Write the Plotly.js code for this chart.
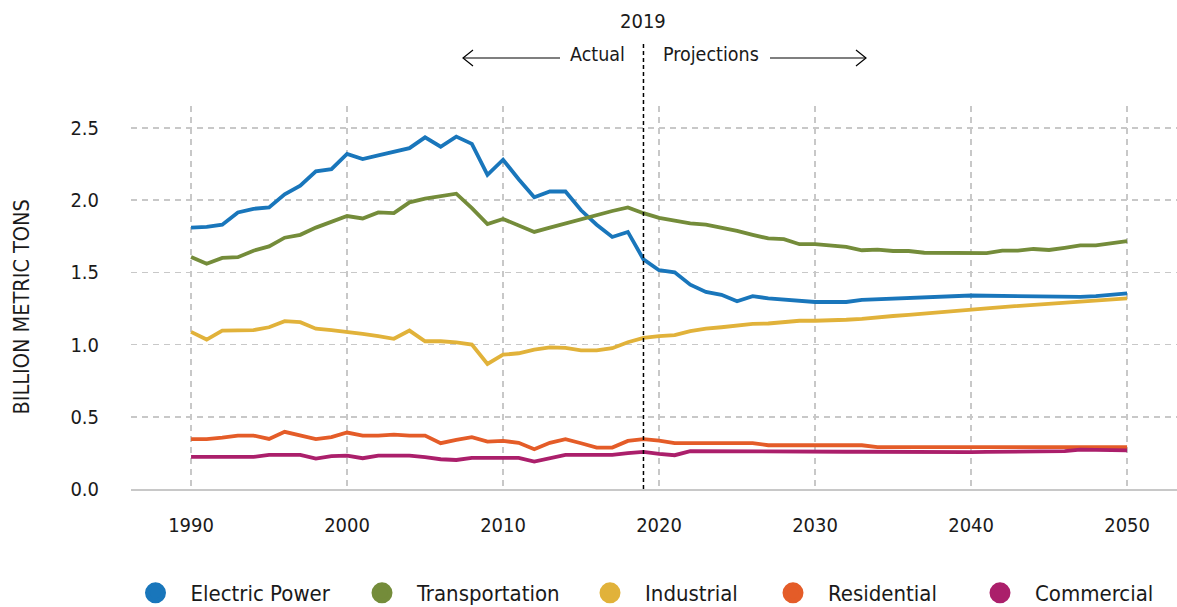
<!DOCTYPE html>
<html>
<head>
<meta charset="utf-8">
<script src="https://cdn.plot.ly/plotly-3.0.1.min.js"></script>
<style>
  html, body { margin: 0; padding: 0; background: #fff; }
  #chart { width: 1177px; height: 607px; }
</style>
</head>
<body>
<div id="chart"></div>
<script>
// ---- Data (billion metric tons), 1990–2050 ----
const years = [];
for (let y = 1990; y <= 2050; y++) years.push(y);

const seriesNames = ['Electric Power', 'Transportation', 'Industrial', 'Residential', 'Commercial'];
const seriesColors = ['#1976bb', '#748c3a', '#e1b23a', '#e45c28', '#ab1f6b'];

const electricPower = [
  1.81, 1.815, 1.83, 1.915, 1.94, 1.95, 2.04, 2.10, 2.20, 2.215,
  2.32, 2.285, 2.31, 2.335, 2.36, 2.435, 2.37, 2.44, 2.39, 2.175,
  2.28, 2.145, 2.02, 2.06, 2.06, 1.93, 1.83, 1.745, 1.78, 1.59,
  1.515, 1.50, 1.415, 1.365, 1.345, 1.30, 1.335, 1.32, 1.31, 1.30,
  1.295, 1.295, 1.295, 1.31, 1.315, 1.32, 1.325, 1.33, 1.335, 1.338,
  1.34, 1.338, 1.336, 1.334, 1.332, 1.33, 1.328, 1.33, 1.335, 1.345,
  1.355
];
const transportation = [
  1.606, 1.56, 1.60, 1.605, 1.65, 1.68, 1.74, 1.76, 1.81, 1.85,
  1.89, 1.873, 1.915, 1.91, 1.985, 2.01, 2.025, 2.045, 1.945, 1.835,
  1.87, 1.826, 1.78, 1.81, 1.84, 1.865, 1.895, 1.925, 1.95, 1.91,
  1.877, 1.856, 1.84, 1.83, 1.81, 1.787, 1.76, 1.735, 1.73, 1.695,
  1.695, 1.683, 1.676, 1.653, 1.657, 1.648, 1.648, 1.636, 1.636, 1.635,
  1.634, 1.633, 1.65, 1.65, 1.662, 1.655, 1.67, 1.687, 1.687, 1.70,
  1.717
];
const industrial = [
  1.088, 1.035, 1.097, 1.097, 1.10, 1.12, 1.162, 1.155, 1.11, 1.10,
  1.09, 1.074, 1.058, 1.04, 1.097, 1.023, 1.023, 1.016, 1.0, 0.866,
  0.93, 0.94, 0.965, 0.98, 0.977, 0.96, 0.96, 0.975, 1.016, 1.046,
  1.058, 1.065, 1.093, 1.11, 1.12, 1.132, 1.144, 1.146, 1.155, 1.165,
  1.165, 1.167, 1.172, 1.178, 1.19, 1.198, 1.205, 1.213, 1.222, 1.233,
  1.243, 1.25, 1.26, 1.268, 1.272, 1.278, 1.286, 1.294, 1.303, 1.312,
  1.32
];
const residential = [
  0.345, 0.345, 0.356, 0.37, 0.37, 0.347, 0.396, 0.37, 0.345, 0.359,
  0.391, 0.37, 0.37, 0.377, 0.37, 0.37, 0.317, 0.34, 0.359, 0.328,
  0.333, 0.32, 0.275, 0.32, 0.345, 0.317, 0.287, 0.287, 0.333, 0.345,
  0.335, 0.317, 0.317, 0.317, 0.317, 0.317, 0.317, 0.303, 0.303, 0.303,
  0.303, 0.303, 0.303, 0.303, 0.29, 0.29, 0.288, 0.288, 0.288, 0.288,
  0.288, 0.288, 0.288, 0.288, 0.288, 0.288, 0.288, 0.288, 0.288, 0.29,
  0.29
];
const commercial = [
  0.222, 0.222, 0.218, 0.216, 0.222, 0.236, 0.236, 0.236, 0.21, 0.227,
  0.231, 0.213, 0.231, 0.231, 0.231, 0.22, 0.206, 0.201, 0.216, 0.216,
  0.216, 0.216, 0.19, 0.213, 0.236, 0.236, 0.236, 0.236, 0.248, 0.257,
  0.243, 0.234, 0.262, 0.261, 0.261, 0.26, 0.26, 0.26, 0.259, 0.259,
  0.258, 0.258, 0.258, 0.258, 0.257, 0.257, 0.257, 0.257, 0.256, 0.256,
  0.256, 0.257, 0.258, 0.259, 0.26, 0.261, 0.262, 0.272, 0.271, 0.27,
  0.268
];
const seriesValues = [electricPower, transportation, industrial, residential, commercial];

const xTickVals = [1990, 2000, 2010, 2020, 2030, 2040, 2050];
const yTickVals = [0, 0.5, 1.0, 1.5, 2.0, 2.5];
const yTickText = ['0.0', '0.5', '1.0', '1.5', '2.0', '2.5'];
const splitYear = 2019;

// ---- Styling ----
const FONT = "'Liberation Sans Narrow', 'Arial Narrow', 'DejaVu Sans Condensed', sans-serif";
const TXT = '#1a1a1a';
const GRID = '#c8c8c8';

const traces = [];
// data lines
seriesNames.forEach((name, i) => {
  traces.push({
    type: 'scatter', mode: 'lines', name: name,
    x: years, y: seriesValues[i],
    line: { color: seriesColors[i], width: 3.8 },
    showlegend: false, legendgroup: name, hoverinfo: 'x+y+name'
  });
});
// legend entries (circle markers), each in its own legend for exact spacing
const legendCenters = [155.5, 382, 610, 793, 1000]; // px centers of legend circles
const legendIds = ['legend', 'legend2', 'legend3', 'legend4', 'legend5'];
seriesNames.forEach((name, i) => {
  traces.push({
    type: 'scatter', mode: 'markers', name: name,
    x: [null], y: [null],
    marker: { color: seriesColors[i], size: 16, symbol: 'circle',
              line: { color: seriesColors[i], width: 5 } },
    legend: legendIds[i], legendgroup: name, showlegend: true
  });
});

const W = 1177, H = 607, ML = 131, MR = 0, MT = 106, MB = 118;
const PW = W - ML - MR, PH = H - MT - MB;
const px2paperX = p => (p - ML) / PW;
const px2paperY = p => (H - MB - p) / PH;

const layout = {
  width: W, height: H,
  margin: { l: ML, r: MR, t: MT, b: MB, pad: 0, autoexpand: false },
  paper_bgcolor: '#fff', plot_bgcolor: '#fff',
  font: { family: FONT, color: TXT, size: 20 },
  xaxis: {
    range: [1986.15, 2053.2], tickvals: xTickVals, ticktext: xTickVals.map(String),
    showgrid: true, gridcolor: GRID, gridwidth: 1.5, griddash: '6px,5px',
    showline: true, linecolor: GRID, linewidth: 2, zeroline: false,
    ticks: '', ticklabelstandoff: 17, automargin: false,
    tickfont: { family: FONT, size: 20, color: TXT }, fixedrange: true
  },
  yaxis: {
    range: [0, 2.652], tickvals: yTickVals, ticktext: yTickText,
    showgrid: true, gridcolor: GRID, gridwidth: 1.5, griddash: '6px,5px',
    zeroline: false, showline: false, ticks: '', ticklabelstandoff: 31, automargin: false,
    tickfont: { family: FONT, size: 20, color: TXT }, fixedrange: true
  },
  showlegend: true,
  shapes: [
    // 2019 split line
    { type: 'line', xref: 'x', yref: 'paper', x0: splitYear, x1: splitYear,
      y0: 0, y1: px2paperY(44), line: { color: '#000', width: 1.5, dash: '4px,3px' } },
    // left arrow
    { type: 'line', xref: 'paper', yref: 'paper', x0: px2paperX(463), x1: px2paperX(560),
      y0: px2paperY(58), y1: px2paperY(58), line: { color: '#000', width: 1.2 } },
    { type: 'path', xref: 'paper', yref: 'paper',
      path: `M ${px2paperX(473)},${px2paperY(50)} L ${px2paperX(463)},${px2paperY(58)} L ${px2paperX(473)},${px2paperY(66)}`,
      line: { color: '#000', width: 1.2 } },
    // right arrow
    { type: 'line', xref: 'paper', yref: 'paper', x0: px2paperX(770), x1: px2paperX(866),
      y0: px2paperY(58), y1: px2paperY(58), line: { color: '#000', width: 1.2 } },
    { type: 'path', xref: 'paper', yref: 'paper',
      path: `M ${px2paperX(856)},${px2paperY(50)} L ${px2paperX(866)},${px2paperY(58)} L ${px2paperX(856)},${px2paperY(66)}`,
      line: { color: '#000', width: 1.2 } }
  ],
  annotations: [
    { text: String(splitYear), xref: 'x', yref: 'paper', x: splitYear, y: px2paperY(21),
      xanchor: 'center', yanchor: 'middle', showarrow: false, font: { family: FONT, size: 20, color: TXT } },
    { text: 'Actual', xref: 'paper', yref: 'paper', x: px2paperX(627), y: px2paperY(55),
      xanchor: 'right', yanchor: 'middle', showarrow: false, font: { family: FONT, size: 19.5, color: TXT } },
    { text: 'Projections', xref: 'paper', yref: 'paper', x: px2paperX(661), y: px2paperY(55),
      xanchor: 'left', yanchor: 'middle', showarrow: false, font: { family: FONT, size: 19.5, color: TXT } },
    { text: 'BILLION METRIC TONS', xref: 'paper', yref: 'paper', x: px2paperX(21), y: px2paperY(307.5),
      xanchor: 'center', yanchor: 'middle', textangle: -90, showarrow: false,
      font: { family: FONT, size: 21.5, color: TXT } }
  ]
};
legendIds.forEach((id, i) => {
  layout[id] = {
    orientation: 'h', x: px2paperX(legendCenters[i] - 35), xanchor: 'left',
    y: px2paperY(593), yanchor: 'middle', itemwidth: 60, itemsizing: 'trace',
    bgcolor: 'rgba(0,0,0,0)', borderwidth: 0,
    font: { family: FONT, size: 22, color: TXT }, itemclick: false, itemdoubleclick: false
  };
});

Plotly.newPlot('chart', traces, layout, { displayModeBar: false, staticPlot: true });
</script>
</body>
</html>
